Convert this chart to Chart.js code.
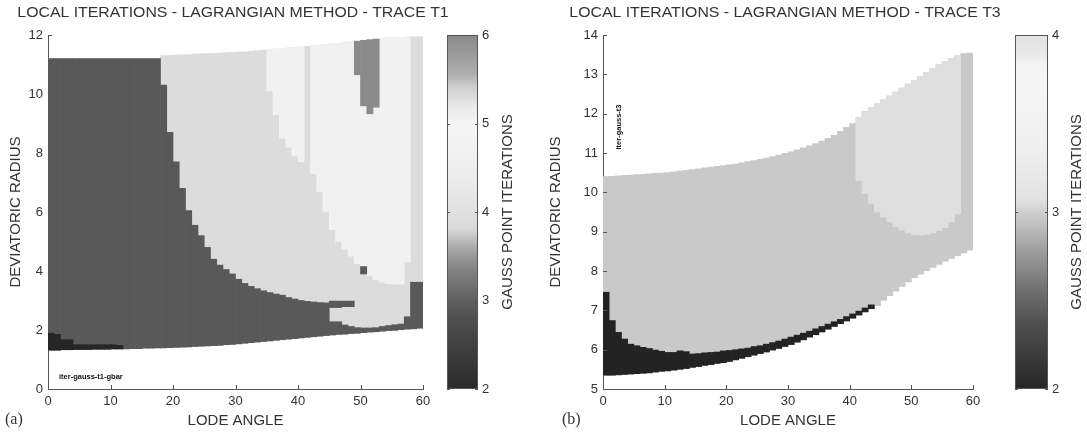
<!DOCTYPE html>
<html>
<head>
<meta charset="utf-8">
<script src="https://cdn.jsdelivr.net/npm/chart.js@4.4.1/dist/chart.umd.min.js"></script>
<style>
  html, body { margin: 0; padding: 0; background: #fff; }
  #wrap { position: relative; width: 1087px; height: 436px; overflow: hidden; }
  .box { position: absolute; top: 0; height: 436px; }
</style>
</head>
<body>
<div id="wrap">
  <div class="box" style="left:0;width:460px"><canvas id="mainA"></canvas></div>
  <div class="box" style="left:440px;width:100px"><canvas id="barA"></canvas></div>
  <div class="box" style="left:540px;width:460px"><canvas id="mainB"></canvas></div>
  <div class="box" style="left:990px;width:97px"><canvas id="barB"></canvas></div>
</div>
<script>
// lode angle columns (1 degree wide), shared by both panels
const lode = [0.5,1.5,2.5,3.5,4.5,5.5,6.5,7.5,8.5,9.5,10.5,11.5,12.5,13.5,14.5,15.5,16.5,17.5,18.5,19.5,
  20.5,21.5,22.5,23.5,24.5,25.5,26.5,27.5,28.5,29.5,30.5,31.5,32.5,33.5,34.5,35.5,36.5,37.5,38.5,39.5,
  40.5,41.5,42.5,43.5,44.5,45.5,46.5,47.5,48.5,49.5,50.5,51.5,52.5,53.5,54.5,55.5,56.5,57.5,58.5,59.5];

// ---- panel (a) : trace T1, deviatoric radius limits per column ----
const aBottom = [1.32,1.32,1.33,1.33,1.34,1.34,1.34,1.35,1.35,1.35,1.36,1.36,1.36,1.37,1.37,1.38,1.38,1.39,1.39,1.40,
  1.41,1.42,1.43,1.44,1.45,1.46,1.47,1.48,1.50,1.51,1.53,1.55,1.57,1.59,1.61,1.63,1.65,1.67,1.69,1.71,
  1.73,1.75,1.77,1.79,1.81,1.83,1.85,1.86,1.88,1.89,1.91,1.93,1.94,1.96,1.98,1.99,2.01,2.03,2.04,2.06];
const aTop = [11.2,11.2,11.2,11.2,11.2,11.2,11.2,11.2,11.2,11.2,11.2,11.2,11.2,11.2,11.2,11.2,11.2,11.2,11.30,11.31,
  11.32,11.33,11.34,11.35,11.36,11.37,11.38,11.39,11.40,11.41,11.42,11.43,11.45,11.47,11.49,11.50,11.52,11.54,11.56,11.58,
  11.60,11.62,11.64,11.66,11.68,11.70,11.72,11.74,11.76,11.79,11.82,11.84,11.86,11.88,11.90,11.91,11.92,11.93,11.94,11.95];
// top of the 2-iteration zone
const aIter2Top = [1.89,1.85,1.67,1.67,1.50,1.50,1.50,1.50,1.50,1.50,1.50,1.48,null,null,null,null,null,null,null,null,
  null,null,null,null,null,null,null,null,null,null,null,null,null,null,null,null,null,null,null,null,
  null,null,null,null,null,null,null,null,null,null,null,null,null,null,null,null,null,null,null,null];
// top of the 3-iteration zone
const aIter3Top = [11.2,11.2,11.2,11.2,11.2,11.2,11.2,11.2,11.2,11.2,11.2,11.2,11.2,11.2,11.2,11.2,11.2,11.2,10.3,8.7,
  7.7,6.8,6.05,5.55,5.2,4.8,4.4,4.2,4.05,3.9,3.72,3.58,3.48,3.4,3.33,3.27,3.22,3.18,3.1,3.05,
  3.0,2.97,2.95,2.93,2.92,2.28,2.28,2.17,2.12,2.08,2.07,2.07,2.08,2.12,2.15,2.18,2.2,2.45,3.62,3.62];
// bottom of the 5-iteration zone (it reaches the top of the domain)
const aIter5Low = [null,null,null,null,null,null,null,null,null,null,null,null,null,null,null,null,null,null,null,null,
  null,null,null,null,null,null,null,null,null,null,null,null,null,null,null,10.1,9.3,8.5,8.2,7.9,
  7.7,null,7.3,6.7,6.0,5.4,5.0,4.75,4.5,4.25,4.05,3.85,3.7,3.62,3.57,3.55,3.55,4.3,null,null];
// bottom of the 6-iteration patch (it reaches the top of the domain)
const aIter6Low = [null,null,null,null,null,null,null,null,null,null,null,null,null,null,null,null,null,null,null,null,
  null,null,null,null,null,null,null,null,null,null,null,null,null,null,null,null,null,null,null,null,
  null,null,null,null,null,null,null,null,null,10.65,9.6,9.33,9.55,null,null,null,null,null,null,null];
// small 3-iteration islands inside the lighter zones
const aIslandX = [45.5, 46.5, 47.5, 48.5, 50.5];
const aIslandLow = [2.76, 2.76, 2.79, 2.79, 3.9];
const aIslandHigh = [2.98, 2.98, 2.98, 2.98, 4.15];

// ---- panel (b) : trace T3 ----
const bBottom = [5.35,5.35,5.36,5.37,5.38,5.39,5.40,5.41,5.43,5.45,5.46,5.48,5.50,5.52,5.55,5.57,5.60,5.62,5.65,5.67,
  5.70,5.74,5.78,5.82,5.86,5.90,5.94,5.99,6.03,6.08,6.13,6.19,6.25,6.32,6.38,6.45,6.52,6.59,6.66,6.73,
  6.80,6.88,6.96,7.04,7.12,7.25,7.37,7.49,7.61,7.72,7.83,7.92,8.01,8.09,8.17,8.25,8.32,8.39,8.46,8.53];
const bTop = [10.40,10.41,10.42,10.43,10.44,10.45,10.46,10.47,10.48,10.49,10.50,10.52,10.54,10.56,10.58,10.60,10.62,10.64,10.66,10.68,
  10.70,10.72,10.75,10.78,10.81,10.84,10.87,10.91,10.95,10.99,11.03,11.08,11.13,11.18,11.24,11.30,11.37,11.45,11.55,11.65,
  11.75,11.90,12.05,12.15,12.25,12.35,12.45,12.55,12.65,12.75,12.85,12.95,13.05,13.15,13.25,13.33,13.40,13.47,13.53,13.54];
const bIter2Top = [7.46,6.74,6.44,6.27,6.14,6.10,6.06,6.03,5.99,5.96,5.93,5.93,5.97,5.95,5.89,5.90,5.92,5.93,5.94,5.97,
  5.98,6.00,6.02,6.04,6.08,6.10,6.14,6.18,6.22,6.27,6.32,6.37,6.42,6.47,6.53,6.59,6.65,6.71,6.77,6.84,
  6.91,6.98,7.06,7.14,null,null,null,null,null,null,null,null,null,null,null,null,null,null,null,null];
const bIter4Low = [null,null,null,null,null,null,null,null,null,null,null,null,null,null,null,null,null,null,null,null,
  null,null,null,null,null,null,null,null,null,null,null,null,null,null,null,null,null,null,null,null,
  null,10.3,9.97,9.72,9.5,9.37,9.25,9.12,9.04,8.97,8.92,8.91,8.93,8.97,9.03,9.1,9.25,9.45,null,null];

// colorbar scales: value stops and their grey level
const cbAVals = [2, 2.4, 2.8, 3.0, 3.1, 3.33, 3.55, 3.7, 3.8, 4.0, 4.25, 4.6, 5.0, 5.18, 5.4, 5.55, 5.78, 6.0];
const cbAGrey = [42, 60, 80, 96, 106, 128, 160, 192, 216, 224, 232, 240, 245, 234, 208, 176, 154, 138];
const cbBVals = [2.0, 2.2, 2.39, 2.58, 2.77, 2.92, 3.0, 3.07, 3.33, 3.7, 3.83, 3.9, 4.0];
const cbBGrey = [38, 60, 82, 116, 156, 190, 206, 226, 238, 246, 244, 232, 226];

const FONT = '"Liberation Sans", Arial, sans-serif';
const INK = '#333';
const AXIS = '#555';

function layer(xs, lo, hi, color) {
  const data = [];
  xs.forEach((x, i) => {
    const a = Array.isArray(lo) ? lo[i] : lo;
    const b = Array.isArray(hi) ? hi[i] : hi;
    if (a == null || b == null) return;
    data.push({ x: x, y: [a, b] });
  });
  return { data, backgroundColor: color, borderWidth: 0, barPercentage: 1, categoryPercentage: 1, grouped: false };
}

// inward tick marks + free text
const decor = {
  id: 'decor',
  afterDraw(chart, args, opts) {
    const ctx = chart.ctx, a = chart.chartArea;
    ctx.save();
    ctx.strokeStyle = AXIS;
    ctx.lineWidth = 1;
    if (opts.axisTicks) {
      const x = chart.scales.x, y = chart.scales.y;
      ctx.beginPath();
      x.ticks.forEach(t => {
        const px = Math.round(x.getPixelForValue(t.value)) + 0.5;
        ctx.moveTo(px, a.bottom); ctx.lineTo(px, a.bottom - 4);
      });
      y.ticks.forEach(t => {
        const py = Math.round(y.getPixelForValue(t.value)) + 0.5;
        ctx.moveTo(a.left, py); ctx.lineTo(a.left + 4, py);
      });
      ctx.stroke();
    }
    if (opts.colorbar) {
      const y = chart.scales.y;
      ctx.strokeRect(Math.round(a.left) + 0.5, Math.round(a.top) + 0.5, Math.round(a.right - a.left) - 1, Math.round(a.bottom - a.top) - 1);
      ctx.beginPath();
      y.ticks.forEach(t => {
        const py = Math.round(y.getPixelForValue(t.value)) + 0.5;
        ctx.moveTo(a.left, py); ctx.lineTo(a.left + 3, py);
        ctx.moveTo(a.right, py); ctx.lineTo(a.right - 3, py);
      });
      ctx.stroke();
    }
    (opts.texts || []).forEach(t => {
      ctx.save();
      ctx.fillStyle = t.color || INK;
      ctx.font = t.font;
      ctx.textAlign = t.align || 'center';
      ctx.textBaseline = 'middle';
      ctx.translate(t.x, t.y);
      if (t.rot) ctx.rotate(t.rot);
      if (t.sx) ctx.scale(t.sx, 1);
      ctx.fillText(t.text, 0, 0);
      ctx.restore();
    });
    ctx.restore();
  }
};

function mainOptions(ymin, ymax, ystep, yWidth, padRight, texts) {
  return {
    responsive: true, maintainAspectRatio: false, animation: false,
    layout: { padding: { top: 35, right: padRight, left: 0, bottom: 0 } },
    plugins: { legend: { display: false }, tooltip: { enabled: false }, decor: { axisTicks: true, texts } },
    scales: {
      x: {
        type: 'linear', min: 0, max: 60, offset: false,
        grid: { display: false, drawTicks: false }, border: { display: true, color: AXIS },
        ticks: { stepSize: 10, color: INK, font: { family: FONT, size: 13 }, padding: 5, maxRotation: 0 },
        title: { display: true, text: 'LODE ANGLE', color: INK, font: { family: FONT, size: 15 }, padding: { top: 0, bottom: 6 } },
        afterFit(s) { s.height = 47; }
      },
      y: {
        min: ymin, max: ymax,
        grid: { display: false, drawTicks: false }, border: { display: true, color: AXIS },
        ticks: { stepSize: ystep, color: INK, font: { family: FONT, size: 13 }, padding: 5 },
        title: { display: true, text: 'DEVIATORIC RADIUS', color: INK, font: { family: FONT, size: 15 }, padding: { top: 7, bottom: 0 } },
        afterFit(s) { s.width = yWidth; }
      }
    }
  };
}

function greyGradient(chart, vals, grey) {
  const a = chart.chartArea;
  if (!a) return 'rgb(180,180,180)';
  const y = chart.scales.y;
  const y0 = y.getPixelForValue(vals[0]), y1 = y.getPixelForValue(vals[vals.length - 1]);
  const g = chart.ctx.createLinearGradient(0, y0, 0, y1);
  vals.forEach((v, i) => {
    const c = grey[i];
    g.addColorStop((v - vals[0]) / (vals[vals.length - 1] - vals[0]), 'rgb(' + c + ',' + c + ',' + c + ')');
  });
  return g;
}

function colorbar(id, vals, grey, padLeft, axisWidth, titleX) {
  return new Chart(document.getElementById(id), {
    type: 'bar',
    data: {
      labels: ['cb'],
      datasets: [{
        data: [[vals[0], vals[vals.length - 1]]],
        backgroundColor: c => greyGradient(c.chart, vals, grey),
        borderWidth: 0, barPercentage: 1, categoryPercentage: 1
      }]
    },
    options: {
      responsive: true, maintainAspectRatio: false, animation: false,
      layout: { padding: { top: 35, left: padLeft, bottom: 47, right: 0 } },
      plugins: {
        legend: { display: false }, tooltip: { enabled: false },
        decor: { colorbar: true, texts: [
          { text: 'GAUSS POINT ITERATIONS', x: titleX, y: 212, rot: -Math.PI / 2, font: '15px ' + FONT }
        ] }
      },
      scales: {
        x: { display: false },
        y: {
          position: 'right', min: vals[0], max: vals[vals.length - 1],
          grid: { display: false, drawTicks: false }, border: { display: false },
          ticks: { stepSize: 1, color: INK, font: { family: FONT, size: 13 }, padding: 4 },
          afterFit(s) { s.width = axisWidth; }
        }
      }
    },
    plugins: [decor]
  });
}

// panel (a)
new Chart(document.getElementById('mainA'), {
  type: 'bar',
  data: {
    datasets: [
      layer(lode, aBottom, aTop, '#dcdcdc'),
      layer(lode, aIter5Low, aTop, '#f1f1f1'),
      layer(lode, aBottom, aIter3Top, '#595959'),
      layer(lode, aBottom, aIter2Top, '#262626'),
      layer(lode, aIter6Low, aTop, '#8b8b8b'),
      layer(aIslandX, aIslandLow, aIslandHigh, '#595959')
    ].reverse()
  },
  options: mainOptions(0, 12, 2, 48, 37, [
    { text: 'LOCAL ITERATIONS - LAGRANGIAN METHOD - TRACE T1', x: 233, y: 13, sx: 1.13, font: '14px ' + FONT },
    { text: '(a)', x: 5, y: 420, align: 'left', font: '16px "Liberation Serif", "Times New Roman", serif' },
    { text: 'iter-gauss-t1-gbar', x: 59, y: 377, align: 'left', color: '#111', font: 'bold 7.5px ' + FONT }
  ]),
  plugins: [decor]
});
colorbar('barA', cbAVals, cbAGrey, 7, 62, 68);

// panel (b)
new Chart(document.getElementById('mainB'), {
  type: 'bar',
  data: {
    datasets: [
      layer(lode, bBottom, bTop, '#c9c9c9'),
      layer(lode, bIter4Low, bTop, '#dedede'),
      layer(lode, bBottom, bIter2Top, '#232323')
    ].reverse()
  },
  options: mainOptions(5, 14, 1, 63, 27, [
    { text: 'LOCAL ITERATIONS - LAGRANGIAN METHOD - TRACE T3', x: 245, y: 13, sx: 1.13, font: '14px ' + FONT },
    { text: '(b)', x: 22, y: 420, align: 'left', font: '16px "Liberation Serif", "Times New Roman", serif' },
    { text: 'iter-gauss-t3', x: 79, y: 127, rot: -Math.PI / 2, color: '#111', font: 'bold 7.5px ' + FONT }
  ]),
  plugins: [decor]
});
colorbar('barB', cbBVals, cbBGrey, 25, 39, 87);
</script>
</body>
</html>
